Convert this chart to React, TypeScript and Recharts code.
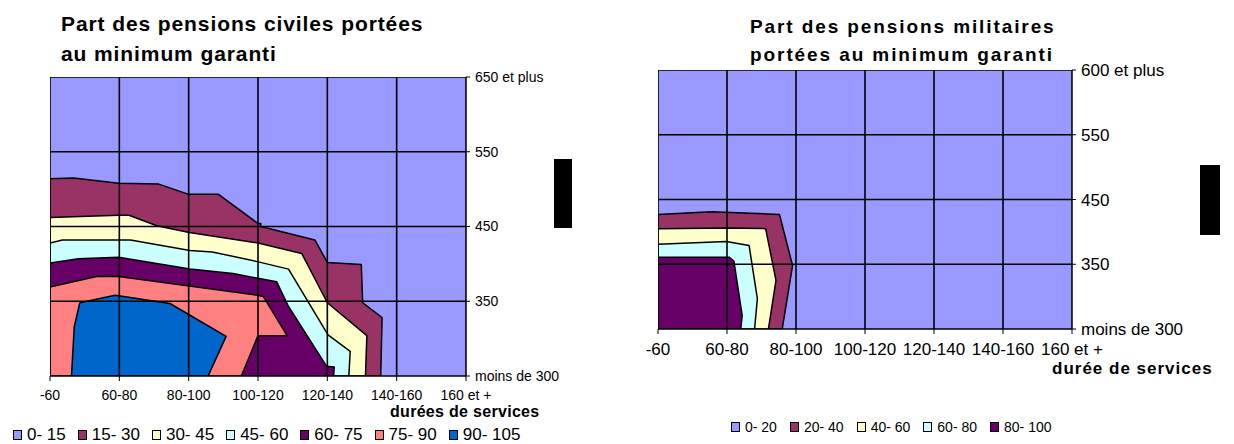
import { ScatterChart, Scatter, XAxis, YAxis } from "recharts";

type Pt = [number, number];

const durations = ["-60", "60-80", "80-100", "100-120", "120-140", "140-160", "160 et +"];
const civilLevels = ["moins de 300", "350", "450", "550", "650 et plus"];
const militaryLevels = ["moins de 300", "350", "450", "550", "600 et plus"];

const civilRanges = ["0- 15", "15- 30", "30- 45", "45- 60", "60- 75", "75- 90", "90- 105"];
const civilColors = ["#9999FF", "#993366", "#FFFFCC", "#CCFFFF", "#660066", "#FF8080", "#0066CC"];
const militaryRanges = ["0- 20", "20- 40", "40- 60", "60- 80", "80- 100"];
const militaryColors = ["#9999FF", "#993366", "#FFFFCC", "#CCFFFF", "#660066"];

// whole plot = lowest band
const fullPlot: Pt[] = [[0, 0], [0, 4], [6, 4], [6, 0]];

// contour boundaries (x = category index, y = level index)
const civil15: Pt[] = [[0, 2.64], [0.34, 2.65], [0.99, 2.58], [1.56, 2.57], [2.0, 2.43], [2.43, 2.43], [3.0, 2.04], [3.04, 2.04], [3.04, 2.0], [3.82, 1.82], [4.0, 1.52], [4.49, 1.49], [4.51, 0.98], [4.79, 0.78], [4.77, 0]];
const civil30: Pt[] = [[0, 2.12], [0.99, 2.15], [1.14, 2.15], [1.54, 2.01], [2.01, 1.92], [3.0, 1.78], [3.63, 1.64], [4.0, 0.98], [4.57, 0.54], [4.55, 0]];
const civil45: Pt[] = [[0, 1.78], [0.18, 1.82], [1.16, 1.82], [2.02, 1.68], [2.34, 1.66], [2.99, 1.53], [3.44, 1.43], [4.01, 0.55], [4.33, 0.33], [4.31, 0]];
const civil60: Pt[] = [[0, 1.51], [0.41, 1.57], [0.99, 1.59], [2.02, 1.43], [2.64, 1.37], [3.27, 1.26], [3.44, 0.93], [3.99, 0.13], [4.1, 0.12], [4.09, 0]];
const civil75: Pt[] = [[0, 1.19], [0.67, 1.33], [0.99, 1.33], [3.0, 1.08], [3.08, 1.06], [3.42, 0.54], [3.0, 0.54], [2.76, 0]];
const civil90: Pt[] = [[0.31, 0], [0.35, 0.66], [0.43, 0.98], [0.94, 1.08], [1.73, 0.97], [2.54, 0.53], [2.28, 0]];

const military20: Pt[] = [[0, 1.77], [0.77, 1.81], [1.76, 1.77], [1.95, 0.98], [1.8, 0]];
const military40: Pt[] = [[0, 1.55], [0.99, 1.56], [1.56, 1.55], [1.71, 0.75], [1.6, 0]];
const military60: Pt[] = [[0, 1.31], [0.99, 1.35], [1.32, 1.29], [1.44, 0.47], [1.4, 0]];
const military80: Pt[] = [[0, 1.11], [1.03, 1.11], [1.1, 1.05], [1.22, 0.21], [1.2, 0]];

const FONT = "'Liberation Sans', Arial, sans-serif";

const xTicks = durations.map((_, i) => i);
const yTicks = civilLevels.map((_, i) => i);
const xMax = durations.length - 1;
const yMax = civilLevels.length - 1;

// boundaries that start on the left axis get closed through the origin corner
const corner = (b: Pt[]): Pt[] => [[0, 0], ...b];
const toData = (pts: Pt[]) => pts.map(([x, y]) => ({ x, y }));

const civilBands = [fullPlot, corner(civil15), corner(civil30), corner(civil45), corner(civil60), corner(civil75), civil90];
const militaryBands = [fullPlot, corner(military20), corner(military40), corner(military60), corner(military80)];

// grid segments drawn on top of the bands, one per tick
const gridSegments: Pt[][] = [
  ...xTicks.map((i): Pt[] => [[i, 0], [i, yMax]]),
  ...yTicks.map((j): Pt[] => [[0, j], [xMax, j]]),
];

const polygonLine = (color: string, outline: boolean) => (props: any) => {
  const pts = (props.points || []).map((p: any) => `${p.x},${p.y}`).join(" ");
  return (
    <polygon
      points={pts}
      fill={color}
      stroke={outline ? "#000" : "none"}
      strokeWidth={1.5}
      strokeLinejoin="round"
    />
  );
};

const gridLine = (props: any) => {
  const pts = (props.points || []).map((p: any) => `${p.x},${p.y}`).join(" ");
  return <polyline points={pts} fill="none" stroke="#000" strokeWidth={1.6} />;
};

const noDot = () => <g />;

interface PanelProps {
  left: number;
  width: number;
  margin: { top: number; right: number; bottom: number; left: number };
  bands: Pt[][];
  colors: string[];
  yLabels: string[];
  xFont: number;
  yFont: number;
  yWidth: number;
}

function ContourPanel({ left, width, margin, bands, colors, yLabels, xFont, yFont, yWidth }: PanelProps) {
  return (
    <div style={{ position: "absolute", left, top: 0 }}>
      <ScatterChart width={width} height={444} margin={margin}>
        <XAxis
          type="number"
          dataKey="x"
          domain={[0, xMax]}
          ticks={xTicks}
          interval={0}
          tickFormatter={(v) => durations[Math.round(v)]}
          height={30}
          tickSize={5}
          tickMargin={9}
          axisLine={{ stroke: "#000", strokeWidth: 1.5 }}
          tickLine={{ stroke: "#000" }}
          tick={{ fill: "#000", fontSize: xFont, fontFamily: FONT }}
          allowDataOverflow
        />
        <YAxis
          type="number"
          dataKey="y"
          orientation="right"
          domain={[0, yMax]}
          ticks={yTicks}
          interval={0}
          tickFormatter={(v) => yLabels[Math.round(v)]}
          width={yWidth}
          tickSize={4}
          tickMargin={5}
          axisLine={{ stroke: "#000", strokeWidth: 1.5 }}
          tickLine={{ stroke: "#000" }}
          tick={{ fill: "#000", fontSize: yFont, fontFamily: FONT }}
          allowDataOverflow
        />
        {bands.map((b, i) => (
          <Scatter
            key={`band-${i}`}
            data={toData(b)}
            fill={colors[i]}
            line={polygonLine(colors[i], i > 0)}
            lineType="joint"
            shape={noDot}
            isAnimationActive={false}
          />
        ))}
        {gridSegments.map((s, i) => (
          <Scatter
            key={`grid-${i}`}
            data={toData(s)}
            fill="#000"
            line={gridLine}
            lineType="joint"
            shape={noDot}
            isAnimationActive={false}
          />
        ))}
      </ScatterChart>
    </div>
  );
}

function LegendRow({ left, top, labels, colors, fontSize, gap }: { left: number; top: number; labels: string[]; colors: string[]; fontSize: number; gap: number }) {
  return (
    <div style={{ position: "absolute", left, top, display: "flex", alignItems: "center", fontFamily: FONT, fontSize, color: "#000", whiteSpace: "nowrap", lineHeight: 1 }}>
      {labels.map((l, i) => (
        <div key={l} style={{ display: "flex", alignItems: "center", marginRight: gap }}>
          <span style={{ display: "inline-block", width: 9, height: 10, boxSizing: "border-box", border: "1px solid #000", background: colors[i], marginRight: 5 }} />
          <span>{l}</span>
        </div>
      ))}
    </div>
  );
}

export default function App() {
  return (
    <div style={{ position: "absolute", left: 0, top: 0, width: 1234, height: 444, background: "#fff", fontFamily: FONT, overflow: "hidden" }}>
      {/* civil panel */}
      <div style={{ position: "absolute", left: 61, top: 9, fontSize: 21, fontWeight: "bold", lineHeight: "30px", letterSpacing: 0.9 }}>
        Part des pensions civiles portées
        <br />
        au minimum garanti
      </div>
      <ContourPanel
        left={0}
        width={600}
        margin={{ top: 77, right: 44, bottom: 38, left: 50 }}
        bands={civilBands}
        colors={civilColors}
        yLabels={civilLevels}
        xFont={14}
        yFont={14}
        yWidth={90}
      />
      <div style={{ position: "absolute", left: 390, top: 403, fontSize: 16, fontWeight: "bold", letterSpacing: 0.3 }}>durées de services</div>
      <LegendRow left={13} top={426} labels={civilRanges} colors={civilColors} fontSize={17} gap={12} />
      <div style={{ position: "absolute", left: 554, top: 159, width: 18, height: 69, background: "#000" }} />

      {/* military panel */}
      <div style={{ position: "absolute", left: 750, width: 304, top: 13, fontSize: 19, fontWeight: "bold", lineHeight: "28px", letterSpacing: 1.9, textAlign: "center", whiteSpace: "nowrap" }}>
        Part des pensions militaires
        <br />
        portées au minimum garanti
      </div>
      <ContourPanel
        left={600}
        width={634}
        margin={{ top: 70, right: 42, bottom: 85, left: 58 }}
        bands={militaryBands}
        colors={militaryColors}
        yLabels={militaryLevels}
        xFont={17}
        yFont={17}
        yWidth={120}
      />
      <div style={{ position: "absolute", left: 1052, top: 359, fontSize: 17, fontWeight: "bold", letterSpacing: 1 }}>durée de services</div>
      <LegendRow left={731} top={420} labels={militaryRanges} colors={militaryColors} fontSize={14} gap={13} />
      <div style={{ position: "absolute", left: 1200, top: 165, width: 20, height: 70, background: "#000" }} />
    </div>
  );
}
